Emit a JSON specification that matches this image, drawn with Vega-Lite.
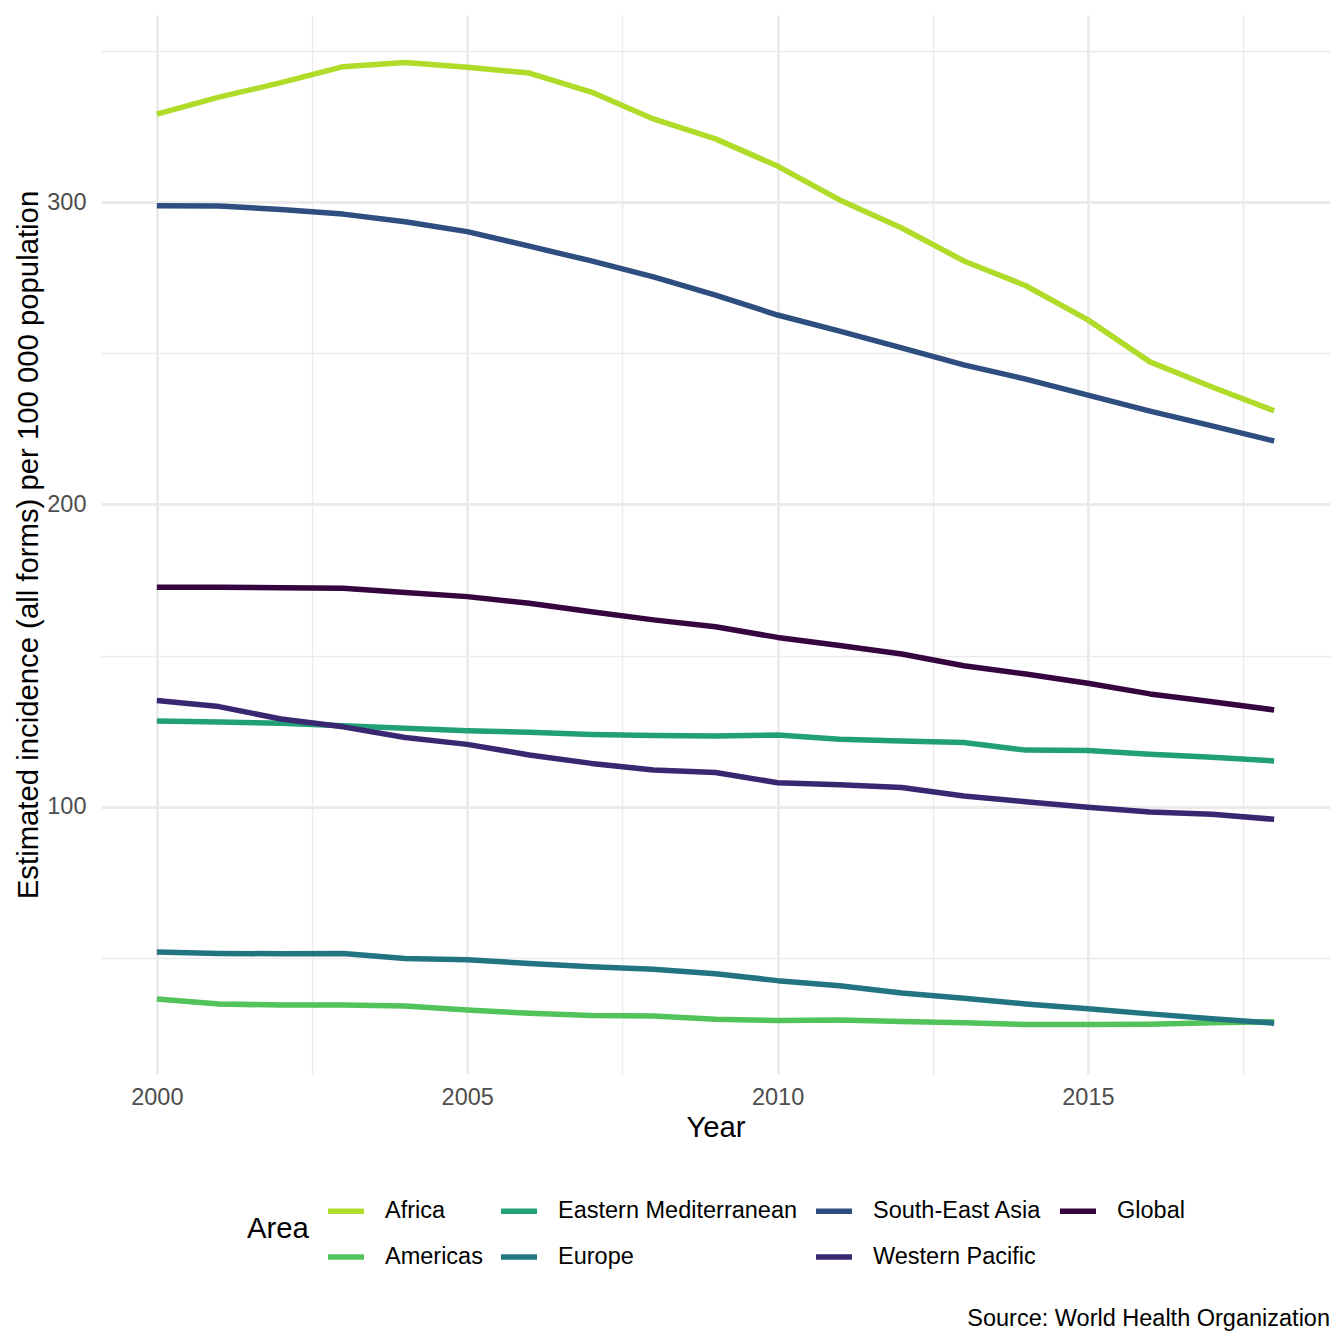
{
  "$schema": "https://vega.github.io/schema/vega-lite/v6.json",
  "width": 1229,
  "height": 1059,
  "autosize": {"type": "none"},
  "padding": {"left": 101, "top": 15, "right": 14, "bottom": 270},
  "background": "white",
  "config": {"font": "Liberation Sans", "view": {"stroke": null}},
  "title": {
    "text": "Source: World Health Organization",
    "orient": "bottom",
    "anchor": "end",
    "frame": "group",
    "fontSize": 23.5,
    "fontWeight": "normal",
    "color": "black",
    "baseline": "alphabetic",
    "offset": 57
  },
  "data": {
    "values": [
      {"Year": 2000, "Africa": 329.2, "Americas": 36.3, "Eastern Mediterranean": 128.3, "Europe": 51.9, "South-East Asia": 298.9, "Western Pacific": 135.1, "Global": 172.6},
      {"Year": 2001, "Africa": 334.8, "Americas": 34.7, "Eastern Mediterranean": 128.0, "Europe": 51.4, "South-East Asia": 298.8, "Western Pacific": 133.1, "Global": 172.6},
      {"Year": 2002, "Africa": 339.6, "Americas": 34.3, "Eastern Mediterranean": 127.6, "Europe": 51.3, "South-East Asia": 297.6, "Western Pacific": 129.0, "Global": 172.4},
      {"Year": 2003, "Africa": 344.9, "Americas": 34.3, "Eastern Mediterranean": 126.8, "Europe": 51.4, "South-East Asia": 296.1, "Western Pacific": 126.4, "Global": 172.3},
      {"Year": 2004, "Africa": 346.3, "Americas": 34.0, "Eastern Mediterranean": 125.9, "Europe": 49.7, "South-East Asia": 293.6, "Western Pacific": 122.9, "Global": 170.9},
      {"Year": 2005, "Africa": 344.7, "Americas": 32.7, "Eastern Mediterranean": 125.1, "Europe": 49.3, "South-East Asia": 290.3, "Western Pacific": 120.6, "Global": 169.5},
      {"Year": 2006, "Africa": 342.8, "Americas": 31.6, "Eastern Mediterranean": 124.6, "Europe": 48.1, "South-East Asia": 285.5, "Western Pacific": 117.1, "Global": 167.3},
      {"Year": 2007, "Africa": 336.5, "Americas": 30.9, "Eastern Mediterranean": 123.9, "Europe": 47.0, "South-East Asia": 280.6, "Western Pacific": 114.3, "Global": 164.5},
      {"Year": 2008, "Africa": 327.6, "Americas": 30.7, "Eastern Mediterranean": 123.5, "Europe": 46.2, "South-East Asia": 275.3, "Western Pacific": 112.1, "Global": 161.8},
      {"Year": 2009, "Africa": 321.0, "Americas": 29.6, "Eastern Mediterranean": 123.4, "Europe": 44.7, "South-East Asia": 269.3, "Western Pacific": 111.3, "Global": 159.5},
      {"Year": 2010, "Africa": 312.0, "Americas": 29.2, "Eastern Mediterranean": 123.7, "Europe": 42.4, "South-East Asia": 262.7, "Western Pacific": 107.9, "Global": 156.0},
      {"Year": 2011, "Africa": 300.8, "Americas": 29.4, "Eastern Mediterranean": 122.3, "Europe": 40.7, "South-East Asia": 257.4, "Western Pacific": 107.2, "Global": 153.3},
      {"Year": 2012, "Africa": 291.5, "Americas": 28.9, "Eastern Mediterranean": 121.7, "Europe": 38.3, "South-East Asia": 251.8, "Western Pacific": 106.3, "Global": 150.5},
      {"Year": 2013, "Africa": 280.6, "Americas": 28.5, "Eastern Mediterranean": 121.2, "Europe": 36.6, "South-East Asia": 246.2, "Western Pacific": 103.5, "Global": 146.6},
      {"Year": 2014, "Africa": 272.4, "Americas": 27.9, "Eastern Mediterranean": 118.7, "Europe": 34.7, "South-East Asia": 241.5, "Western Pacific": 101.6, "Global": 143.9},
      {"Year": 2015, "Africa": 261.1, "Americas": 27.9, "Eastern Mediterranean": 118.6, "Europe": 33.1, "South-East Asia": 236.2, "Western Pacific": 99.8, "Global": 140.8},
      {"Year": 2016, "Africa": 247.2, "Americas": 28.0, "Eastern Mediterranean": 117.3, "Europe": 31.4, "South-East Asia": 230.9, "Western Pacific": 98.2, "Global": 137.3},
      {"Year": 2017, "Africa": 238.9, "Americas": 28.5, "Eastern Mediterranean": 116.3, "Europe": 29.8, "South-East Asia": 226.0, "Western Pacific": 97.5, "Global": 134.7},
      {"Year": 2018, "Africa": 231.0, "Americas": 28.8, "Eastern Mediterranean": 115.1, "Europe": 28.3, "South-East Asia": 221.0, "Western Pacific": 95.8, "Global": 132.0}
    ]
  },
  "transform": [
    {"fold": ["Africa", "Americas", "Eastern Mediterranean", "Europe", "South-East Asia", "Western Pacific", "Global"], "as": ["Area", "value"]}
  ],
  "mark": {"type": "line", "strokeWidth": 5.5, "strokeCap": "butt", "strokeJoin": "round"},
  "encoding": {
    "x": {
      "field": "Year",
      "type": "quantitative",
      "scale": {"domain": [1999.1, 2018.9], "nice": false, "zero": false},
      "axis": {
        "values": [2000, 2002.5, 2005, 2007.5, 2010, 2012.5, 2015, 2017.5],
        "format": "d",
        "labelExpr": "datum.value % 5 === 0 ? datum.label : ''",
        "domain": false,
        "ticks": false,
        "grid": true,
        "gridColor": "#EBEBEB",
        "gridWidth": {"condition": {"test": "datum.value % 5 === 0", "value": 2.85}, "value": 1.42},
        "labelFontSize": 23.5,
        "labelColor": "#4D4D4D",
        "labelPadding": 11,
        "labelFlush": false,
        "labelOverlap": false,
        "title": "Year",
        "titleFontSize": 29.3,
        "titleFontWeight": "normal",
        "titleColor": "black",
        "titlePadding": 5
      }
    },
    "y": {
      "field": "value",
      "type": "quantitative",
      "scale": {"domain": [11.5, 362], "nice": false, "zero": false},
      "axis": {
        "values": [50, 100, 150, 200, 250, 300, 350],
        "format": "d",
        "labelExpr": "datum.value % 100 === 0 ? datum.label : ''",
        "domain": false,
        "ticks": false,
        "grid": true,
        "gridColor": "#EBEBEB",
        "gridWidth": {"condition": {"test": "datum.value % 100 === 0", "value": 2.85}, "value": 1.42},
        "labelFontSize": 23.5,
        "labelColor": "#4D4D4D",
        "labelPadding": 15,
        "labelOverlap": false,
        "title": "Estimated incidence (all forms) per 100 000 population",
        "titleFontSize": 29.3,
        "titleFontWeight": "normal",
        "titleColor": "black",
        "titlePadding": 3
      }
    },
    "color": {
      "field": "Area",
      "type": "nominal",
      "scale": {
        "domain": ["Africa", "Eastern Mediterranean", "South-East Asia", "Global", "Americas", "Europe", "Western Pacific"],
        "range": ["#AEDC28", "#22A075", "#2E4E80", "#36053F", "#52C35A", "#227482", "#3A2772"]
      },
      "legend": {
        "orient": "none",
        "legendX": 146,
        "legendY": 1175,
        "direction": "horizontal",
        "columns": 4,
        "title": "Area",
        "titleOrient": "left",
        "titleFontSize": 29.3,
        "titleFontWeight": "normal",
        "titleColor": "black",
        "titlePadding": 16,
        "titleAnchor": "middle",
        "titleBaseline": "middle",
        "labelFontSize": 23.5,
        "labelColor": "black",
        "labelLimit": 0,
        "symbolType": "stroke",
        "symbolSize": 1296,
        "symbolStrokeWidth": 5.5,
        "labelOffset": 18,
        "columnPadding": 7,
        "rowPadding": 13,
        "padding": 0
      }
    }
  }
}
